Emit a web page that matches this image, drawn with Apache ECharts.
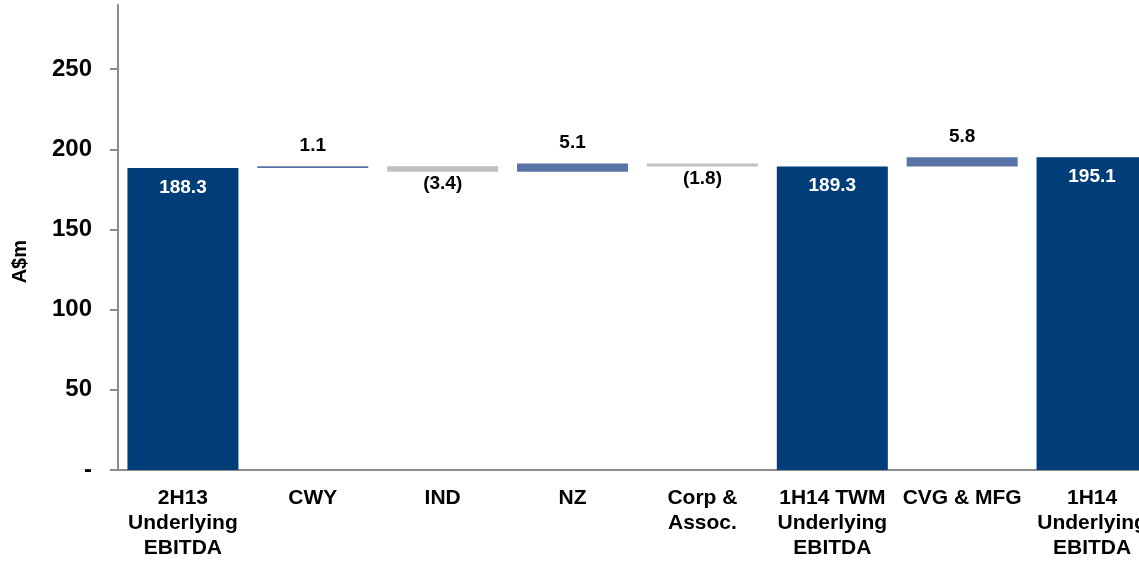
<!DOCTYPE html>
<html>
<head>
<meta charset="utf-8">
<script src="https://cdn.jsdelivr.net/npm/echarts@6/dist/echarts.min.js"></script>
<style>
html,body{margin:0;padding:0;background:#fff;overflow:hidden;width:1139px;height:561px;}
#c{width:1157px;height:561px;}
</style>
</head>
<body>
<div id="c"></div>
<script>
var categories = ['2H13\nUnderlying\nEBITDA', 'CWY', 'IND', 'NZ', 'Corp &\nAssoc.', '1H14 TWM\nUnderlying\nEBITDA', 'CVG & MFG', '1H14\nUnderlying\nEBITDA'];
var totals   = [188.3, null, null, null, null, 189.3, null, 195.1];
var changes  = [null, 1.1, -3.4, 5.1, -1.8, null, 5.8, null];
var yTicks   = [0, 50, 100, 150, 200, 250];

var FONT = '"Liberation Sans", Arial, sans-serif';
var NAVY = '#003D79', BLUE = '#5873A6', GREY = '#C0C0C0', AXIS = '#8C8C8C';

// waterfall helper series derived from the read values
var base = [], inc = [], dec = [], tot = [];
var level = 0;
for (var i = 0; i < categories.length; i++) {
  if (totals[i] != null) {
    level = totals[i];
    base.push(0); tot.push(totals[i]); inc.push(null); dec.push(null);
  } else {
    var d = changes[i];
    if (d >= 0) { base.push(level); inc.push(d); dec.push(null); level += d; }
    else { level += d; base.push(level); dec.push(-d); inc.push(null); }
    tot.push(null);
  }
}

var chart = echarts.init(document.getElementById('c'));
chart.setOption({
  animation: false,
  textStyle: { fontFamily: FONT },
  grid: { left: 118, right: 0, top: 5, bottom: 88, containLabel: false },
  xAxis: {
    type: 'category',
    data: categories,
    axisLine: { lineStyle: { color: AXIS, width: 2 } },
    axisTick: { alignWithLabel: false, length: 7, lineStyle: { color: AXIS, width: 2 } },
    axisLabel: { interval: 0, color: '#000', fontWeight: 'bold', fontSize: 21, lineHeight: 25, margin: 16, fontFamily: FONT }
  },
  yAxis: {
    type: 'value',
    min: 0, max: 290, interval: 50,
    splitLine: { show: false },
    axisLine: { show: true, lineStyle: { color: AXIS, width: 2 } },
    axisTick: { show: true, length: 8, customValues: yTicks, lineStyle: { color: AXIS, width: 2 } },
    axisLabel: {
      customValues: yTicks,
      color: '#000', fontWeight: 'bold', fontSize: 24, margin: 26, fontFamily: FONT,
      formatter: function (v) { return v === 0 ? '-' : String(v); }
    }
  },
  graphic: [{
    type: 'text', left: 10, top: 240, rotation: Math.PI / 2,
    style: { text: 'A$m', fill: '#000', font: 'bold 20px ' + FONT }
  }],
  series: [
    { type: 'bar', stack: 'w', data: base, barWidth: 111, itemStyle: { color: 'transparent' }, silent: true },
    {
      type: 'bar', stack: 'w', data: tot, barWidth: 111, itemStyle: { color: NAVY },
      label: { show: true, position: 'insideTop', distance: 10, color: '#fff', fontWeight: 'bold', fontSize: 19, fontFamily: FONT,
        formatter: function (p) { return p.value.toFixed(1); } }
    },
    {
      type: 'bar', stack: 'w', data: inc, barWidth: 111, itemStyle: { color: BLUE },
      label: { show: true, position: 'top', distance: 11, color: '#000', fontWeight: 'bold', fontSize: 19, fontFamily: FONT,
        formatter: function (p) { return p.value.toFixed(1); } }
    },
    {
      type: 'bar', stack: 'w', data: dec, barWidth: 111, itemStyle: { color: GREY },
      label: { show: true, position: 'bottom', distance: 3, color: '#000', fontWeight: 'bold', fontSize: 19, fontFamily: FONT,
        formatter: function (p) { return '(' + p.value.toFixed(1) + ')'; } }
    }
  ]
});
</script>
</body>
</html>
